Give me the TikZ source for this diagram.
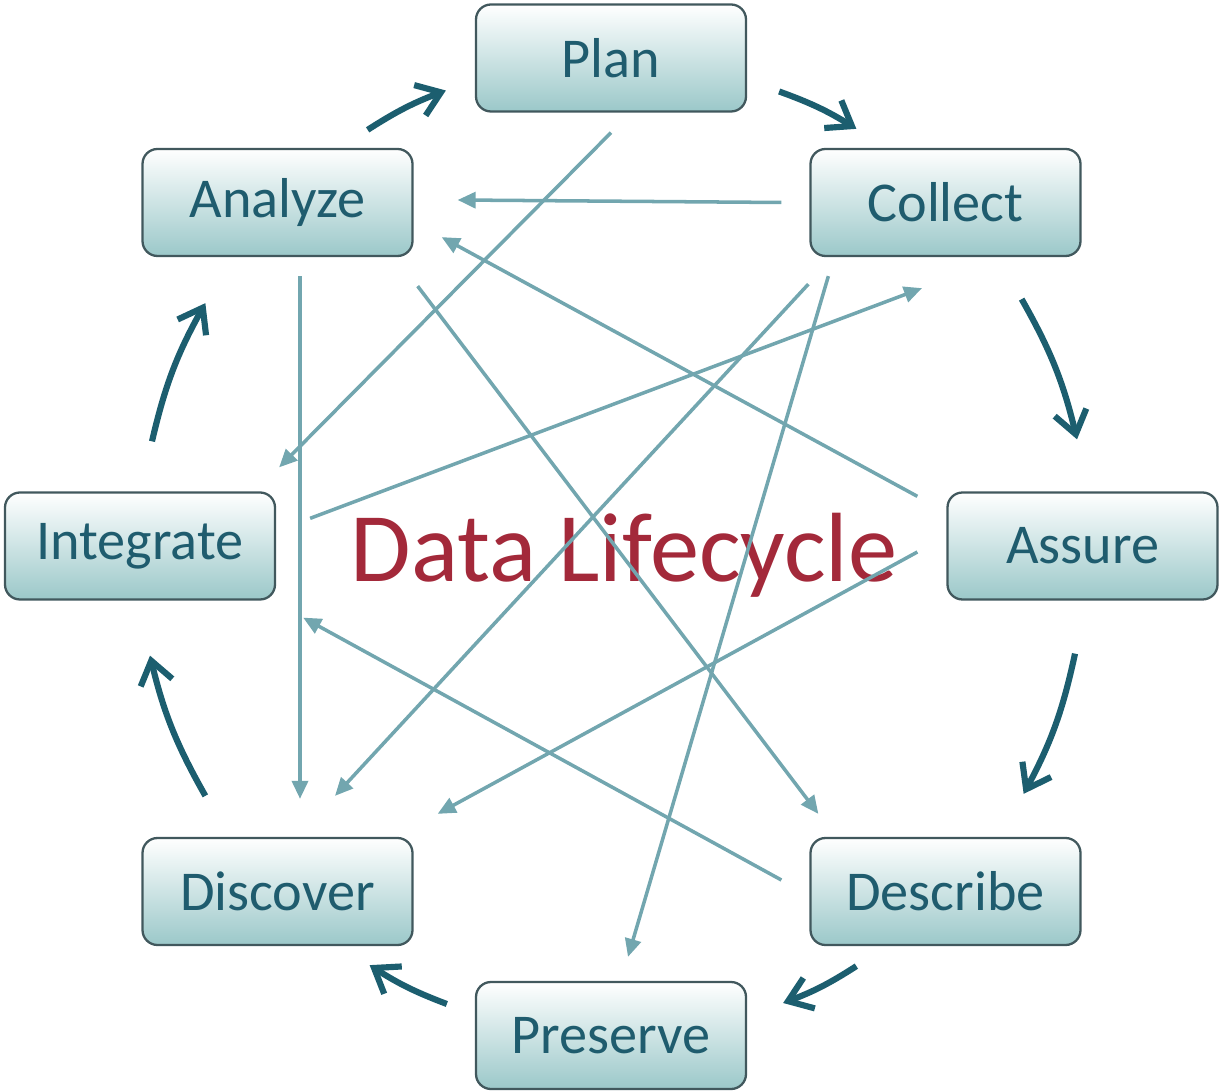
\documentclass[tikz,border=0pt]{standalone}
\usepackage{fontspec}
\setmainfont{Carlito}
\usetikzlibrary{calc}
\usetikzlibrary{arrows.meta}

\definecolor{boxtext}{HTML}{1F5C6E}
\definecolor{boxline}{HTML}{41585D}
\definecolor{boxfill}{HTML}{9BC8C9}
\definecolor{cyclecol}{HTML}{1C5E6F}
\definecolor{linkcol}{HTML}{72A6AF}
\definecolor{titlecol}{HTML}{A3293A}

\begin{document}
\begin{tikzpicture}[
  stage/.style={draw=boxline, line width=1.3pt, rounded corners=0.3cm, top color=white, bottom color=boxfill, minimum width=5.4cm, minimum height=2.14cm, text=boxtext, font=\fontsize{32}{36}\selectfont},
  cyc/.style={draw=cyclecol, line width=3.5pt, -{Straight Barb[length=4.5mm,width=6.5mm]}, bend left=8},
  link/.style={draw=linkcol, line width=2pt, -{Triangle[length=3.6mm,width=3.2mm]}}
]
\useasboundingbox (0,0) rectangle (24.4,21.82);

\node[stage] (Plan) at (12.22, 20.66) {Plan};
\node[stage] (Collect) at (18.91, 17.77) {Collect};
\node[stage] (Assure) at (21.65, 10.9) {Assure};
\node[stage] (Describe) at (18.91, 3.99) {Describe};
\node[stage] (Preserve) at (12.22, 1.11) {Preserve};
\node[stage] (Discover) at (5.55, 3.99) {Discover};
\node[stage] (Integrate) at (2.8, 10.9) {Integrate};
\node[stage] (Analyze) at (5.55, 17.77) {Analyze};

\node[anchor=base, text=titlecol, font=\fontsize{56}{60}\selectfont] (Title) at (12.48, 10.18) {Data Lifecycle};

% cycle
\draw[cyc, bend left=6] ($(Analyze.north east)+(-0.92,0.36)$) to ($(Plan.west)+(-0.58,-0.65)$);
\draw[cyc, bend left=6] ($(Plan.east)+(0.64,-0.67)$) to ($(Collect.north west)+(0.94,0.38)$);
\draw[cyc] ($(Collect.south east)+(-1.2,-0.84)$) to ($(Assure.north)+(-0.11,1.04)$);
\draw[cyc] ($(Assure.south)+(-0.15,-1.06)$) to ($(Describe.north east)+(-1.16,0.86)$);
\draw[cyc, bend left=6] ($(Describe.south west)+(0.94,-0.4)$) to ($(Preserve.east)+(0.72,0.65)$);
\draw[cyc, bend left=6] ($(Preserve.west)+(-0.56,0.63)$) to ($(Discover.south east)+(-0.88,-0.38)$);
\draw[cyc] ($(Discover.north west)+(1.28,0.82)$) to ($(Integrate.south)+(0.2,-1.1)$);
\draw[cyc] ($(Integrate.north)+(0.24,1.0)$) to ($(Analyze.south west)+(1.28,-0.92)$);

% links
\draw[link] ($(Plan.south)+(0,-0.4)$) -- ($(Integrate.north east)+(0.06,0.48)$);
\draw[link] ($(Collect.west)+(-0.56,0)$) -- ($(Analyze.east)+(0.88,0.05)$);
\draw[link] ($(Assure.north west)+(-0.58,-0.1)$) -- ($(Analyze.south east)+(0.56,0.4)$);
\draw[link] ($(Analyze.south)+(0.45,-0.38)$) -- ($(Discover.north)+(0.45,0.76)$);
\draw[link] ($(Analyze.south east)+(0.08,-0.58)$) -- ($(Describe.north west)+(0.18,0.46)$);
\draw[link] ($(Collect.south west)+(-0.02,-0.54)$) -- ($(Discover.north)+(1.15,0.82)$);
\draw[link] ($(Collect.south west)+(0.38,-0.38)$) -- ($(Preserve.north)+(0.34,0.48)$);
\draw[link] ($(Integrate.north east)+(0.68,-0.54)$) -- ($(Collect.south)+(-0.47,-0.62)$);
\draw[link] ($(Assure.west)+(-0.58,-0.12)$) -- ($(Discover.north east)+(0.48,0.46)$);
\draw[link] ($(Describe.west)+(-0.56,0.23)$) -- ($(Integrate.south east)+(0.54,-0.34)$);
\end{tikzpicture}
\end{document}
